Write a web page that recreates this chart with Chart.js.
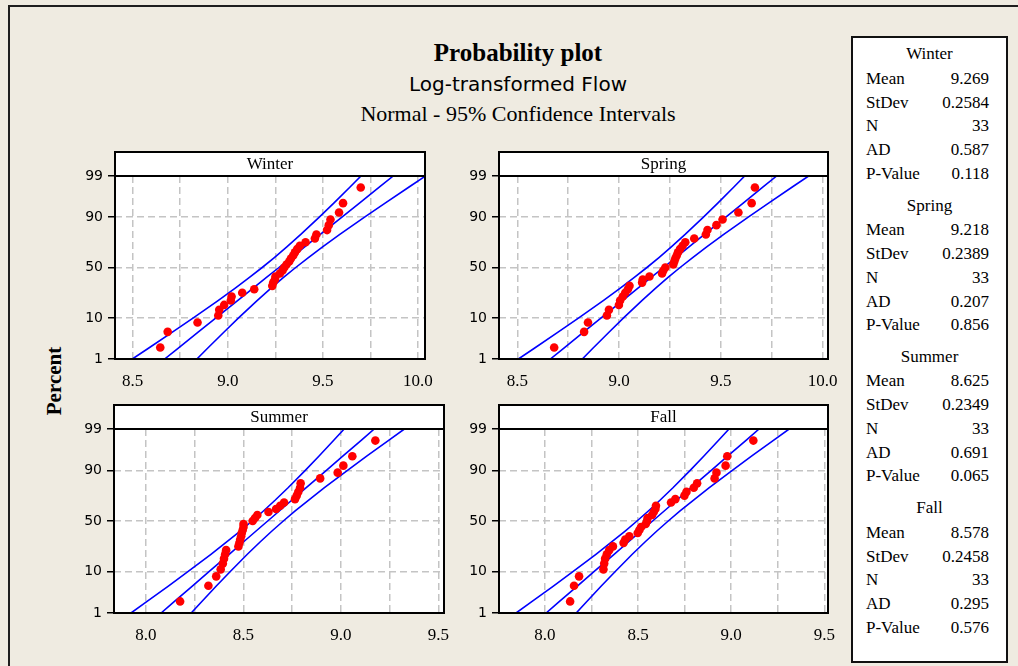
<!DOCTYPE html>
<html>
<head>
<meta charset="utf-8">
<script src="https://cdn.jsdelivr.net/npm/chart.js@4.4.1/dist/chart.umd.min.js"></script>
<style>
  body { margin: 0; background: #efebe1; width: 1018px; height: 666px; overflow: hidden; position: relative; }
  canvas { position: absolute; left: 0; top: 0; }
  .frame { position: absolute; left: 8px; top: 5px; width: 1100px; height: 700px; border-top: 2px solid #1e1e1e; border-left: 2px solid #1e1e1e; }
  .t { position: absolute; left: 0; width: 1036px; text-align: center; color: #000; white-space: nowrap; }
  #stats { position: absolute; left: 851px; top: 36px; width: 153px; height: 623px; background: #fff; border: 2px solid #111; }
  #stats div { position: absolute; font: 17px "Liberation Serif", serif; line-height: 20px; color: #000; white-space: nowrap; }
  #percent { position: absolute; left: 54px; top: 381px; transform: translate(-50%, -50%) rotate(-90deg); font: bold 21px "Liberation Serif", serif; }
</style>
</head>
<body>
<div class="frame"></div>
<div class="t" style="top:38px;font:bold 25px 'Liberation Serif',serif;line-height:30px">Probability plot</div>
<div class="t" style="top:71px;font:20px 'DejaVu Sans',sans-serif;line-height:26px">Log-transformed Flow</div>
<div class="t" style="top:100px;font:22px 'Liberation Serif',serif;line-height:28px">Normal - 95% Confidence Intervals</div>
<div id="percent">Percent</div>
<div id="stats"></div>
<canvas id="c0" width="1018" height="666"></canvas>
<canvas id="c1" width="1018" height="666"></canvas>
<canvas id="c2" width="1018" height="666"></canvas>
<canvas id="c3" width="1018" height="666"></canvas>
<script>
// data
const seasons = ['Winter', 'Spring', 'Summer', 'Fall'];
const means = [9.269, 9.218, 8.625, 8.578];
const stdevs = [0.2584, 0.2389, 0.2349, 0.2458];
const counts = [33, 33, 33, 33];
const adStats = [0.587, 0.207, 0.691, 0.295];
const pValues = [0.118, 0.856, 0.065, 0.576];

// plotting positions (percent) of the 33 ranked points
const rankPercents = [2.10, 5.09, 8.08, 11.08, 14.07, 17.07, 20.06, 23.05, 26.05, 29.04, 32.04,
  35.03, 38.02, 41.02, 44.01, 47.01, 50.00, 52.99, 55.99, 58.98, 61.98, 64.97, 67.96,
  70.96, 73.95, 76.95, 79.94, 82.93, 85.93, 88.92, 91.92, 94.91, 97.90];

const winterFlow = [8.645, 8.684, 8.841, 8.950, 8.955, 8.981, 9.016, 9.020, 9.076, 9.139, 9.234,
  9.239, 9.248, 9.251, 9.274, 9.288, 9.297, 9.309, 9.323, 9.332, 9.344, 9.353, 9.365,
  9.379, 9.409, 9.458, 9.466, 9.522, 9.531, 9.540, 9.585, 9.606, 9.699];
const springFlow = [8.681, 8.828, 8.847, 8.940, 8.950, 8.999, 9.005, 9.018, 9.030, 9.043, 9.051,
  9.113, 9.116, 9.149, 9.211, 9.217, 9.227, 9.266, 9.271, 9.276, 9.283, 9.289, 9.299,
  9.312, 9.325, 9.369, 9.426, 9.434, 9.478, 9.508, 9.586, 9.651, 9.667];
const summerFlow = [8.176, 8.321, 8.361, 8.384, 8.395, 8.401, 8.407, 8.412, 8.475, 8.480, 8.484,
  8.489, 8.492, 8.497, 8.501, 8.501, 8.548, 8.560, 8.572, 8.629, 8.668, 8.689, 8.709,
  8.765, 8.774, 8.782, 8.791, 8.794, 8.894, 8.984, 9.013, 9.059, 9.177];
const fallFlow = [8.135, 8.156, 8.183, 8.314, 8.318, 8.323, 8.332, 8.345, 8.365, 8.422, 8.431,
  8.453, 8.498, 8.507, 8.516, 8.541, 8.548, 8.551, 8.575, 8.584, 8.593, 8.596, 8.677,
  8.700, 8.749, 8.760, 8.799, 8.817, 8.911, 8.921, 8.970, 8.979, 9.119];
const flows = [winterFlow, springFlow, summerFlow, fallFlow];

const yTickPercents = [1, 10, 50, 90, 99];
// percent levels where the fitted line and 95% bands are evaluated
const bandPercents = [1, 2, 5, 10, 20, 30, 40, 50, 60, 70, 80, 90, 95, 98, 99];

// panel boxes in page pixels
const panels = [
  { left: 115, right: 425, headerTop: 152, top: 176, bottom: 359, xMin: 8.407, xMax: 10.037 },
  { left: 499, right: 828, headerTop: 152, top: 176, bottom: 359, xMin: 8.41, xMax: 10.026 },
  { left: 114, right: 444, headerTop: 405, top: 429, bottom: 613, xMin: 7.837, xMax: 9.529 },
  { left: 499, right: 828, headerTop: 405, top: 429, bottom: 613, xMin: 7.753, xMax: 9.52 }
];

// inverse normal cdf (Acklam)
function probit(p) {
  const a = [-39.69683028665376, 220.9460984245205, -275.9285104469687, 138.3577518672690, -30.66479806614716, 2.506628277459239];
  const b = [-54.47609879822406, 161.5858368580409, -155.6989798598866, 66.80131188771972, -13.28068155288572];
  const c = [-0.007784894002430293, -0.3223964580411365, -2.400758277161838, -2.549732539343734, 4.374664141464968, 2.938163982698783];
  const d = [0.007784695709041462, 0.3224671290700398, 2.445134137142996, 3.754408661907416];
  const tail = q => (((((c[0]*q+c[1])*q+c[2])*q+c[3])*q+c[4])*q+c[5]) / ((((d[0]*q+d[1])*q+d[2])*q+d[3])*q+1);
  if (p < 0.02425) return tail(Math.sqrt(-2 * Math.log(p)));
  if (p > 0.97575) return -tail(Math.sqrt(-2 * Math.log(1 - p)));
  const q = p - 0.5, r = q * q;
  return (((((a[0]*r+a[1])*r+a[2])*r+a[3])*r+a[4])*r+a[5])*q / (((((b[0]*r+b[1])*r+b[2])*r+b[3])*r+b[4])*r+1);
}

// normal probability axis: values are percents, spacing follows the normal quantile
class ProbabilityScale extends Chart.Scale {
  determineDataLimits() {
    this.min = this.options.min;
    this.max = this.options.max;
  }
  buildTicks() {
    return yTickPercents.map(v => ({ value: v }));
  }
  getLabelForValue(v) {
    return String(v);
  }
  configure() {
    super.configure();
    this._zStart = probit(this.min / 100);
    this._zRange = probit(this.max / 100) - this._zStart;
  }
  getPixelForValue(v) {
    return this.getPixelForDecimal((probit(v / 100) - this._zStart) / this._zRange);
  }
  getValueForPixel(px) {
    // rough inverse, only needed for interaction
    const z = this._zStart + this.getDecimalForPixel(px) * this._zRange;
    return 100 / (1 + Math.exp(-1.702 * z));
  }
}
ProbabilityScale.id = 'probability';
ProbabilityScale.defaults = {};
Chart.register(ProbabilityScale);

function fitPoints(i, side) {
  return bandPercents.map(p => {
    const z = probit(p / 100);
    const se = stdevs[i] * Math.sqrt((1 + z * z / 2) / counts[i]);
    return { x: means[i] + z * stdevs[i] + side * 1.96 * se, y: p };
  });
}

const panelPlugin = {
  id: 'panelFrame',
  beforeDraw(chart) {
    const { ctx, chartArea: a } = chart;
    ctx.save();
    ctx.fillStyle = '#fff';
    ctx.fillRect(a.left, a.top, a.width, a.height);
    ctx.restore();
  },
  afterDraw(chart, args, opts) {
    const { ctx, chartArea: a } = chart;
    ctx.save();
    ctx.lineWidth = 2;
    ctx.strokeStyle = '#000';
    ctx.fillStyle = '#fff';
    ctx.fillRect(a.left, opts.headerTop, a.width, a.top - opts.headerTop);
    ctx.strokeRect(a.left, opts.headerTop, a.width, a.top - opts.headerTop);
    ctx.strokeRect(a.left, a.top, a.width, a.height);
    ctx.fillStyle = '#000';
    ctx.font = '17px "Liberation Serif"';
    ctx.textAlign = 'center';
    ctx.textBaseline = 'middle';
    ctx.fillText(opts.title, (a.left + a.right) / 2, (opts.headerTop + a.top) / 2 + 1);
    ctx.restore();
  }
};

const yAxisW = 45, xAxisH = 40;
const blueLine = { showLine: true, borderColor: '#0000ff', borderWidth: 1.6, pointRadius: 0, order: 1 };

panels.forEach((p, i) => {
  new Chart(document.getElementById('c' + i), {
    type: 'scatter',
    data: {
      datasets: [
        {
          data: flows[i].map((v, k) => ({ x: v, y: rankPercents[k] })),
          backgroundColor: '#ff0000', borderWidth: 0, pointRadius: 4.3, order: 0
        },
        Object.assign({ data: fitPoints(i, 0) }, blueLine),
        Object.assign({ data: fitPoints(i, -1) }, blueLine),
        Object.assign({ data: fitPoints(i, 1) }, blueLine)
      ]
    },
    options: {
      responsive: false,
      animation: false,
      devicePixelRatio: 1,
      events: [],
      layout: {
        padding: { left: p.left - yAxisW, right: 1018 - p.right, top: p.top, bottom: 666 - p.bottom - xAxisH }
      },
      plugins: {
        legend: { display: false },
        tooltip: { enabled: false },
        panelFrame: { title: seasons[i], headerTop: p.headerTop }
      },
      scales: {
        x: {
          type: 'linear', min: p.xMin, max: p.xMax,
          afterFit: s => { s.height = xAxisH; },
          border: { display: false, dash: [7, 4] },
          grid: { color: '#c4c4c4', lineWidth: 1.5, drawTicks: false },
          ticks: {
            stepSize: 0.25, includeBounds: false, autoSkip: false, maxRotation: 0, padding: 12,
            color: '#000', font: { family: 'Liberation Serif', size: 17 },
            callback: v => Math.abs(v * 2 - Math.round(v * 2)) < 1e-6 ? v.toFixed(1) : ''
          }
        },
        y: {
          type: 'probability', position: 'left', min: 1, max: 99,
          afterFit: s => { s.width = yAxisW; },
          border: { display: false, dash: [7, 4] },
          grid: {
            color: '#c4c4c4', lineWidth: 1.5,
            tickLength: 7, tickColor: '#000', tickWidth: 1.5, tickBorderDash: []
          },
          ticks: { padding: 5, color: '#000', font: { family: 'DejaVu Sans', size: 14 } }
        }
      }
    },
    plugins: [panelPlugin]
  });
});

// statistics box
const statsBox = document.getElementById('stats');
const groupY = [54, 205.5, 356.5, 508];
const rowOffsets = [24.5, 48.5, 72, 96, 119.5];
const boxTop = 38, boxLeft = 853;
seasons.forEach((name, i) => {
  const head = document.createElement('div');
  head.textContent = name;
  head.style.left = '0px';
  head.style.width = '153px';
  head.style.textAlign = 'center';
  head.style.top = (groupY[i] - boxTop - 10) + 'px';
  statsBox.appendChild(head);
  const rows = [
    ['Mean', means[i].toFixed(3)],
    ['StDev', stdevs[i].toFixed(4)],
    ['N', String(counts[i])],
    ['AD', adStats[i].toFixed(3)],
    ['P-Value', pValues[i].toFixed(3)]
  ];
  rows.forEach((r, k) => {
    const y = groupY[i] + rowOffsets[k] - boxTop - 10;
    const lab = document.createElement('div');
    lab.textContent = r[0];
    lab.style.left = (866 - boxLeft) + 'px';
    lab.style.top = y + 'px';
    statsBox.appendChild(lab);
    const val = document.createElement('div');
    val.textContent = r[1];
    val.style.right = (boxLeft + 153 - 989) + 'px';
    val.style.top = y + 'px';
    statsBox.appendChild(val);
  });
});
</script>
</body>
</html>
